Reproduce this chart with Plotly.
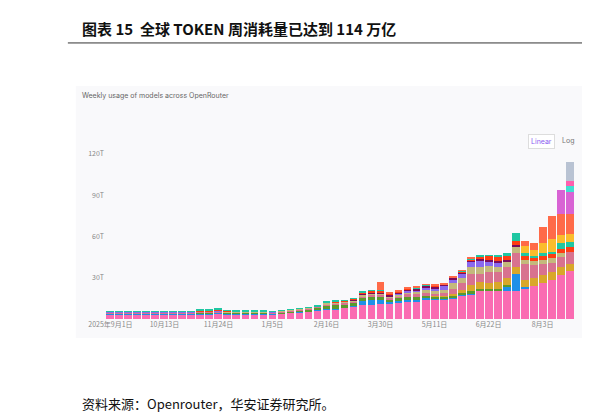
import plotly.graph_objects as go

# weekly buckets, 52 weeks
weeks = list(range(52))
tick_pos = [0, 6, 12, 18, 24, 30, 36, 42, 48]
tick_text = ["2025年9月1日", "10月13日", "11月24日", "1月5日", "2月16日", "3月30日", "5月11日", "6月22日", "8月3日"]

# token usage per model group, in trillions
pink = [3, 3, 3, 3, 3, 3, 3, 3, 3, 3, 3.5, 3.5, 4,
        3.5, 3.5, 3.5, 3.5, 3.5, 3.5, 4, 4.5, 5, 5.5, 6.5, 7, 7,
        8, 9, 10, 10, 11, 11, 12, 13, 13, 14, 14, 14, 15,
        17, 18, 20, 20, 20, 20, 20, 22, 24, 26, 28, 32, 35]
blue = [0.8, 0.8, 0.8, 0.8, 0.8, 0.8, 0.8, 0.8, 0.8, 0.8, 0.8, 0.8, 0.6,
        0.6, 0.5, 0.5, 0.5, 0.5, 0.3, 0.3, 0.3, 0.3, 0.3, 0.3, 0.3, 0.3,
        0.3, 0.3, 3, 4, 3, 1, 1, 1, 1, 1, 0.5, 0.5, 0.5,
        0.5, 0.5, 0, 0, 0, 3, 13, 1, 0, 0, 0, 0, 0]
green = [0.4, 0.4, 0.4, 0.4, 0.4, 0.4, 0.4, 0.4, 0.4, 0.4, 0.4, 0.4, 0.4,
         0.4, 0.4, 0.4, 0.4, 0.4, 0.4, 0.6, 0.8, 1, 1.2, 1.5, 2.5, 3,
         2.5, 2.5, 2.5, 2.5, 2, 2, 2, 2, 2, 2, 1.5, 1.5, 1.5,
         1.5, 2, 2, 1.5, 2, 1.5, 0, 0, 0, 0, 0, 0, 0]
gold = [0, 0, 0, 0, 0, 0, 0, 0, 0, 0, 0, 0, 0,
        0, 0, 0, 0, 0, 0, 0, 0, 0, 0, 0, 0, 0,
        0, 0, 0, 0, 0, 0, 0, 0, 0, 0, 0.5, 0.5, 1,
        2, 4, 5, 5, 5, 5, 5, 5, 6, 6, 6, 6, 5]
rose = [0.5, 0.5, 0.5, 0.5, 0.5, 0.5, 0.5, 0.5, 0.5, 0.5, 0.5, 0.5, 0.5,
        0.5, 0.5, 0.5, 0.5, 0.5, 0.5, 0.5, 0.5, 0.5, 0.5, 0.5, 1, 1,
        1, 1, 1, 1, 1.5, 1.5, 1.5, 2, 2, 2, 2, 2.5, 4,
        5, 8, 6, 8, 7, 8, 10, 12, 9, 8, 7, 7, 9]
khaki = [0.3, 0.3, 0.3, 0.3, 0.3, 0.3, 0.3, 0.3, 0.3, 0.3, 0.3, 0.3, 0.3,
         0.3, 0.3, 0.3, 0.3, 0.3, 0.3, 0.5, 0.5, 0.5, 0.5, 0.5, 1, 1,
         1, 1, 1, 1, 1, 1, 1, 1.5, 1.5, 2, 2, 2, 4,
         4, 5, 5, 4, 4, 4, 4, 3, 3, 3, 3, 3, 0]
purple = [0.3, 0.3, 0.3, 0.3, 0.3, 0.3, 0.3, 0.3, 0.3, 0.3, 0.3, 0.3, 0.3,
          0.3, 0.3, 0.3, 0.3, 0.3, 0.3, 0, 0, 0, 0, 0, 0, 0,
          0, 0, 0, 0, 0, 0, 1, 1, 1.5, 2, 2, 3, 3,
          3, 4, 4, 3, 3, 0, 0, 0, 0, 0, 0, 0, 0]
plum = [0, 0, 0, 0, 0, 0, 0, 0, 0, 0, 0, 0, 0,
        0, 0, 0, 0, 0, 0, 0, 0, 0, 0, 0, 0, 0,
        0, 0.5, 1, 1, 1, 1, 1, 1, 1, 1, 1, 1, 1,
        1, 1, 1.5, 1.5, 1.5, 1.5, 1.5, 0, 0, 0, 0, 0, 0]
red = [0, 0, 0, 0, 0, 0, 0, 0, 0, 0, 0.3, 0.5, 1,
       0.3, 0, 0, 0, 0, 0, 0, 0, 0, 0, 0, 0.3, 0.5,
       0.5, 0.5, 1, 1, 1, 1, 0.5, 0.5, 0.5, 0.5, 0.5, 0, 0,
       0.5, 1, 2, 3, 3, 3, 3, 3, 2, 3, 3, 3, 3]
teal = [0.5, 0.5, 0.5, 0.5, 0.5, 0.5, 0.5, 0.5, 0.5, 0.5, 0.5, 0.5, 0.5,
        0.5, 0.5, 0.5, 0.5, 0.5, 0.5, 0.3, 0.3, 0.3, 0.3, 0.3, 0.3, 0.3,
        0.3, 0.3, 0.3, 0.3, 0.3, 0.3, 0.3, 0.3, 0.3, 0.3, 0.3, 0.3, 0.3,
        0.5, 0.5, 0.5, 0.5, 0.5, 2, 6, 2, 2, 2, 2, 4, 4]
orange = [0] * 39 + [0, 0, 0, 0, 0, 0, 0, 5, 4, 7, 9, 6, 6]
tomato = [0, 0, 0, 0, 0, 0, 0, 0, 0, 0, 0, 0, 0,
          0, 0, 0, 0, 0, 0, 0, 0, 0, 0, 0, 0, 0,
          0, 0, 0, 0, 6, 0.5, 0.5, 0.5, 0.5, 0.5, 0.5, 0.5, 0.5,
          0.5, 0.5, 0, 0, 0, 0, 0, 4, 5, 12, 17, 15, 14]
orchid = [0] * 50 + [18, 16]
turquoise = [0] * 51 + [5]
hotpink = [0] * 51 + [3]
grey = [0] * 51 + [14]

series = [
    (pink, "#fa6bb2"), (blue, "#1e90e8"), (green, "#5b9a2c"), (gold, "#d9a72a"),
    (rose, "#d8728f"), (khaki, "#c4b97c"), (purple, "#8a69ee"), (plum, "#7b0b5c"),
    (red, "#ff3d12"), (teal, "#1fc7a2"), (orange, "#fbbc2c"), (tomato, "#ff6a48"),
    (orchid, "#d863d4"), (turquoise, "#3fe0d0"), (hotpink, "#ff5fae"), (grey, "#b9c3d3"),
]

fig = go.Figure()
for vals, col in series:
    fig.add_trace(go.Bar(x=weeks, y=vals, marker_color=col, marker_line_width=0, showlegend=False))

fig.update_layout(
    barmode="stack", bargap=0.12,
    width=590, height=419,
    margin=dict(l=97, r=23, t=139, b=108),
    paper_bgcolor="white", plot_bgcolor="#f9f9fb",
    font=dict(family="Noto Sans CJK SC", color="#888"),
    shapes=[
        dict(type="rect", xref="paper", yref="paper", x0=-0.062, x1=1.017, y0=-0.11, y1=1.355,
             fillcolor="#f9f9fb", line_width=0, layer="below"),
        dict(type="line", xref="paper", yref="paper", x0=-0.079, x1=1.05, y0=1.605, y1=1.605,
             line=dict(color="#333", width=1)),
    ],
    annotations=[
        dict(text="<b>图表 15  全球 TOKEN 周消耗量已达到 114 万亿</b>", xref="paper", yref="paper",
             x=-0.053, y=1.69, xanchor="left", yanchor="middle", showarrow=False,
             font=dict(size=15, color="#111", family="Noto Sans CJK SC")),
        dict(text="Weekly usage of models across OpenRouter", xref="paper", yref="paper",
             x=-0.053, y=1.30, xanchor="left", yanchor="middle", showarrow=False,
             font=dict(size=7, color="#666", family="Inter")),
        dict(text="Linear", xref="paper", yref="paper", x=0.957, y=1.075, showarrow=False,
             bgcolor="white", bordercolor="#ddd", borderwidth=1, borderpad=2,
             font=dict(size=7, color="#8a5cf0", family="Inter")),
        dict(text="Log", xref="paper", yref="paper", x=1.003, y=1.075, showarrow=False,
             font=dict(size=7, color="#777", family="Inter")),
        dict(text="资料来源：Openrouter，华安证券研究所。", xref="paper", yref="paper",
             x=-0.053, y=-0.494, xanchor="left", yanchor="middle", showarrow=False,
             font=dict(size=13, color="#111", family="Noto Sans CJK SC")),
    ],
)
fig.update_xaxes(tickmode="array", tickvals=tick_pos, ticktext=tick_text, range=[-0.6, 51.6],
                 showgrid=False, zeroline=False, ticks="", automargin=False,
                 tickfont=dict(size=7, color="#888"))
fig.update_yaxes(range=[0, 125], tickvals=[30, 60, 90, 120], ticktext=["30T", "60T", "90T", "120T"],
                 showgrid=False, zeroline=False, automargin=False, tickfont=dict(size=7, color="#888"))

fig.write_html("out.html")
